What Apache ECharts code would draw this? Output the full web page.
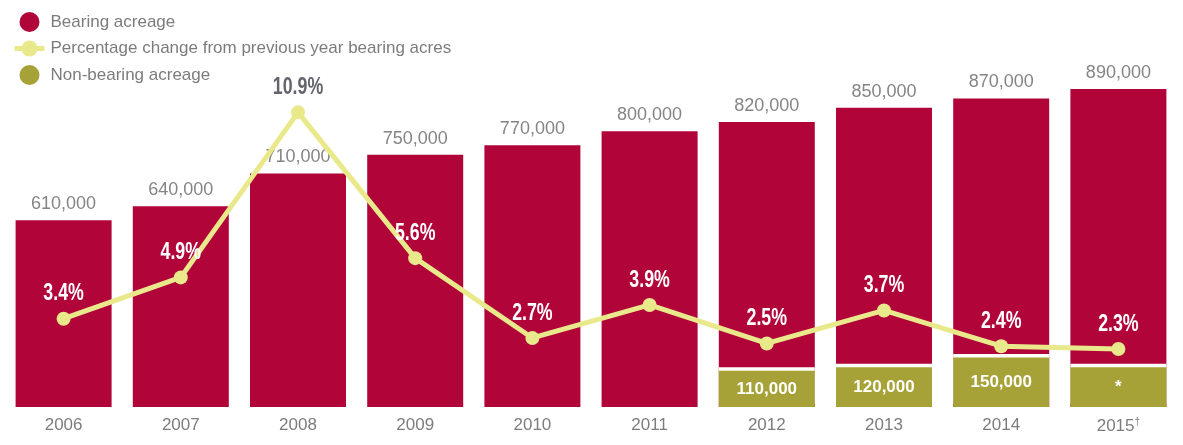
<!DOCTYPE html>
<html>
<head>
<meta charset="utf-8">
<script src="https://cdn.jsdelivr.net/npm/echarts@6/dist/echarts.min.js"></script>
<style>
html,body{margin:0;padding:0;background:#fff;}
#chart{width:1183px;height:445px;}
</style>
</head>
<body>
<div id="chart"></div>
<script>
const years = ['2006','2007','2008','2009','2010','2011','2012','2013','2014','2015†'];
const bearingAcreage = [610000, 640000, 710000, 750000, 770000, 800000, 820000, 850000, 870000, 890000];
const pctChange = [3.4, 4.9, 10.9, 5.6, 2.7, 3.9, 2.5, 3.7, 2.4, 2.3];
const nonBearingAcreage = [null, null, null, null, null, null, 110000, 120000, 150000, 120000];
const nonBearingLabels = ['', '', '', '', '', '', '110,000', '120,000', '150,000', '*'];

const RED = '#B1053A', YEL = '#E9E98C', OLIVE = '#A6A238', GRAY = '#7c7c7c';
const fmt = v => v.toLocaleString('en-US');

const chart = echarts.init(document.getElementById('chart'), null, {renderer: 'canvas'});
chart.setOption({
  animation: false,
  backgroundColor: '#fff',
  legend: {
    orient: 'vertical', left: 7, top: 7, itemGap: 8,
    itemWidth: 30, itemHeight: 20,
    textStyle: {color: GRAY, fontSize: 17, fontFamily: 'Liberation Sans, Arial, sans-serif', padding: [0,0,0,1]},
    data: [
      {name: 'Bearing acreage', icon: 'circle'},
      {name: 'Percentage change from previous year bearing acres', lineStyle: {width: 5, color: YEL}},
      {name: 'Non-bearing acreage', icon: 'circle'}
    ]
  },
  grid: {left: 5, right: 6, top: 40, bottom: 38, containLabel: false},
  xAxis: {
    type: 'category', data: years,
    axisLine: {show: false}, axisTick: {show: false},
    axisLabel: {
      interval: 0,
      color: GRAY, fontSize: 17, fontFamily: 'Liberation Sans, Arial, sans-serif', margin: 10,
      formatter: v => v.indexOf('†') >= 0 ? v.replace('†', '') + '{sup|†}' : v,
      rich: {sup: {fontSize: 10, color: GRAY, verticalAlign: 'top', padding: [0, 0, 8, 0]}}
    }
  },
  yAxis: [
    {type: 'value', min: 211400, max: 994800, show: false, splitLine: {show: false}},
    {type: 'value', min: 0, max: 1110000, show: false, splitLine: {show: false}},
    {type: 'value', min: 0.19, max: 13.53, show: false, splitLine: {show: false}}
  ],
  series: [
    {
      name: 'Bearing acreage', type: 'bar', yAxisIndex: 0,
      data: bearingAcreage, barWidth: 96, barGap: '-100%',
      itemStyle: {color: RED},
      label: {show: true, position: 'top', distance: 7, color: '#858585', fontSize: 18,
        fontFamily: 'Liberation Sans, Arial, sans-serif', formatter: p => fmt(p.value)},
      z: 2
    },
    {
      name: 'Percentage change from previous year bearing acres', type: 'line', yAxisIndex: 2,
      data: pctChange,
      symbol: 'circle', symbolSize: 14,
      lineStyle: {color: YEL, width: 5},
      itemStyle: {color: YEL},
      z: 5
    },
    {
      name: 'pctLabels', type: 'custom', yAxisIndex: 2,
      data: pctChange.map((v, i) => [i, v]),
      renderItem: (params, api) => {
        const pt = api.coord([api.value(0), api.value(1)]);
        const i = params.dataIndex;
        return {
          type: 'text', x: pt[0], y: pt[1] - 25, scaleX: 0.74, scaleY: 1,
          style: {
            text: pctChange[i] + '%',
            fill: i === 2 ? '#64646c' : '#ffffff',
            font: 'bold 24px "Liberation Sans", Arial, sans-serif',
            align: 'center', verticalAlign: 'middle'
          }
        };
      },
      silent: true,
      z: 6
    },
    {
      name: 'Non-bearing acreage', type: 'bar', yAxisIndex: 1,
      data: nonBearingAcreage, barWidth: 96, barGap: '-100%',
      itemStyle: {color: OLIVE, shadowColor: '#ffffff', shadowBlur: 0, shadowOffsetX: 0, shadowOffsetY: -3.5},
      label: {show: true, position: 'inside', color: '#fff', fontSize: 17, fontWeight: 'bold',
        fontFamily: 'Liberation Sans, Arial, sans-serif', formatter: p => nonBearingLabels[p.dataIndex]},
      z: 3
    }
  ]
});
</script>
</body>
</html>
